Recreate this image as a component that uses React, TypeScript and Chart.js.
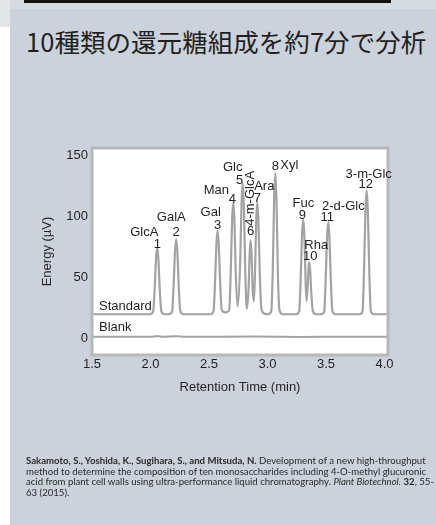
import React, { useEffect, useRef } from "react";
import { Chart, registerables } from "chart.js";

Chart.register(...registerables);

// ---------- data ----------
const xTicks = [1.5, 2.0, 2.5, 3.0, 3.5, 4.0];
const yTicks = [0, 50, 100, 150];

const standardTime = [
  1.5, 1.998, 2.023, 2.036, 2.048, 2.058, 2.068, 2.08, 2.093, 2.118,
  2.16, 2.185, 2.198, 2.21, 2.22, 2.23, 2.242, 2.255, 2.28,
  2.514, 2.539, 2.552, 2.564, 2.574, 2.584, 2.596, 2.609, 2.64, 2.673,
  2.686, 2.698, 2.708, 2.718, 2.728, 2.745,
  2.766, 2.778, 2.788, 2.798, 2.81, 2.823,
  2.838, 2.848, 2.856, 2.864, 2.873, 2.884,
  2.895, 2.904, 2.913, 2.923, 2.935, 2.948, 2.973,
  3.007, 3.032, 3.045, 3.057, 3.067, 3.077, 3.089, 3.102, 3.127,
  3.246, 3.271, 3.284, 3.296, 3.306, 3.316, 3.326, 3.334,
  3.345, 3.351, 3.357, 3.365, 3.375, 3.388, 3.413,
  3.46, 3.485, 3.498, 3.51, 3.52, 3.53, 3.542, 3.555, 3.58,
  3.788, 3.813, 3.826, 3.838, 3.848, 3.858, 3.87, 3.883, 3.908, 4.03,
];
const standardSignal = [
  19.5, 19.5, 22, 41, 66, 74, 64, 38, 22, 19.5,
  19.5, 22, 44, 72, 81, 70, 41, 22, 19.5,
  19.5, 22, 47, 78, 88, 75, 44, 23, 21, 23,
  55, 98, 111, 95, 55, 26,
  60, 110, 127, 108, 55, 24,
  40, 70, 80, 68, 40, 30,
  60, 98, 111, 94, 50, 24, 20,
  19.5, 22, 55, 115, 135, 112, 52, 23, 19.5,
  19.5, 22, 50, 86, 97, 82, 45, 30,
  45, 58, 62, 55, 36, 22, 19.5,
  19.5, 22, 50, 84, 95, 81, 45, 22, 19.5,
  19.5, 22, 60, 106, 121, 103, 55, 22, 19.5, 19.5,
];

const blankTime = [1.5, 2.0, 2.06, 2.1, 2.22, 2.3, 2.9, 3.3, 3.6, 4.03];
const blankSignal = [1.0, 1.0, 1.6, 1.0, 1.4, 1.0, 1.2, 0.9, 1.0, 1.0];

const peakTimes = [2.058, 2.22, 2.574, 2.708, 2.788, 2.856, 2.913, 3.067, 3.306, 3.357, 3.52, 3.848];
const peakHeights = [74, 81, 88, 111, 127, 80, 111, 135, 97, 62, 95, 121];
const peakNames = ["GlcA", "GalA", "Gal", "Man", "Glc", "4-m-GlcA", "Ara", "Xyl", "Fuc", "Rha", "2-d-Glc", "3-m-Glc"];
const peakNumbers = ["1", "2", "3", "4", "5", "6", "7", "8", "9", "10", "11", "12"];

const traceNames = ["Standard", "Blank"];

const pageTitle = "10種類の還元糖組成を約7分で分析";
const xTitle = "Retention Time (min)";
const yTitle = "Energy (µV)";

// ---------- layout (pixel offsets of peak labels from each apex) ----------
// [nameDx, nameDy, numberDx, numberDy, nameRotated]
const labelLayout: [number, number, number, number, boolean][] = [
  [-13, -15, 0, -3, false],
  [-5, -22, 0, -7, false],
  [-7, -18, 0, -5, false],
  [-17, -12, -1, -3, false],
  [-10, -16, -3, -3, false],
  [0, -42, 0, -9, true],
  [7, -16, 0, -4, false],
  [14, -8, 0, -7, false],
  [0, -16, -1, -4, false],
  [7, -17, 1, -6, false],
  [15, -16, -1, -5, false],
  [2, -16, -1, -6, false],
];

const TEXT = "#231f20";
const FONT = '"Liberation Sans", Arial, sans-serif';

const decor = {
  id: "decor",
  beforeDatasetsDraw(chart: any) {
    const { ctx, chartArea: a } = chart;
    ctx.save();
    ctx.fillStyle = "#ffffff";
    ctx.fillRect(a.left, a.top, a.right - a.left, a.bottom - a.top);
    ctx.restore();
  },
  afterDatasetsDraw(chart: any) {
    const { ctx, chartArea: a, scales } = chart;
    const xs = scales.x;
    const ys = scales.y;
    ctx.save();
    ctx.strokeStyle = "#b8b8b8";
    ctx.lineWidth = 3;
    ctx.strokeRect(a.left, a.top, a.right - a.left, a.bottom - a.top);

    ctx.fillStyle = TEXT;
    ctx.font = `13px ${FONT}`;
    ctx.textAlign = "center";
    ctx.textBaseline = "middle";
    peakTimes.forEach((t, i) => {
      const px = xs.getPixelForValue(t);
      const py = ys.getPixelForValue(peakHeights[i]);
      const [ndx, ndy, mdx, mdy, rot] = labelLayout[i];
      ctx.fillText(peakNumbers[i], px + mdx, py + mdy);
      if (rot) {
        ctx.save();
        ctx.translate(px + ndx, py + ndy);
        ctx.rotate(-Math.PI / 2);
        ctx.fillText(peakNames[i], 0, 0);
        ctx.restore();
      } else {
        ctx.fillText(peakNames[i], px + ndx, py + ndy);
      }
    });

    ctx.textAlign = "left";
    const firsts = [standardSignal[0], blankSignal[0]];
    const lift = [8, 9];
    traceNames.forEach((name, i) => {
      ctx.fillText(name, a.left + 7, ys.getPixelForValue(firsts[i]) - lift[i]);
    });
    ctx.restore();
  },
};

export default function App() {
  const ref = useRef<HTMLCanvasElement | null>(null);

  useEffect(() => {
    if (!ref.current) return;
    const chart = new Chart(ref.current, {
      type: "line",
      data: {
        datasets: [
          {
            label: traceNames[0],
            data: standardTime.map((t, i) => ({ x: t, y: standardSignal[i] })),
            borderColor: "#a3a3a3",
            borderWidth: 2.2,
            pointRadius: 0,
            cubicInterpolationMode: "monotone",
          },
          {
            label: traceNames[1],
            data: blankTime.map((t, i) => ({ x: t, y: blankSignal[i] })),
            borderColor: "#a3a3a3",
            borderWidth: 2,
            pointRadius: 0,
            cubicInterpolationMode: "monotone",
          },
        ],
      },
      options: {
        responsive: false,
        animation: false,
        events: [],
        layout: { padding: { left: 40, right: 48, top: 148, bottom: 130 } },
        plugins: { legend: { display: false }, tooltip: { enabled: false }, title: { display: false } },
        scales: {
          x: {
            type: "linear",
            min: 1.5,
            max: 4.03,
            border: { display: false },
            grid: { display: false, drawTicks: false },
            afterBuildTicks: (s: any) => {
              s.ticks = xTicks.map((v) => ({ value: v }));
            },
            afterFit: (s: any) => {
              s.height = 40;
            },
            ticks: {
              color: TEXT,
              font: { family: FONT, size: 13 },
              padding: 2,
              maxRotation: 0,
              callback: (v: any) => Number(v).toFixed(1),
            },
            title: { display: true, text: xTitle, color: TEXT, font: { family: FONT, size: 13 }, padding: 0 },
          },
          y: {
            type: "linear",
            min: -13.9,
            max: 155.7,
            border: { display: false },
            grid: { display: false, drawTicks: false },
            afterBuildTicks: (s: any) => {
              s.ticks = yTicks.map((v) => ({ value: v }));
            },
            afterFit: (s: any) => {
              s.width = 52;
            },
            ticks: {
              color: TEXT,
              font: { family: FONT, size: 13 },
              padding: 4,
              callback: (v: any) => String(v),
            },
            title: { display: true, text: yTitle, color: TEXT, font: { family: FONT, size: 13 }, padding: 0 },
          },
        },
      },
      plugins: [decor],
    } as any);
    return () => chart.destroy();
  }, []);

  return (
    <div
      style={{
        position: "fixed",
        left: 0,
        top: 0,
        width: 436,
        height: 525,
        background: "#cbd2dc",
        overflow: "hidden",
      }}
    >
      <div style={{ position: "absolute", left: 0, top: 0, width: 10, height: 525, background: "#ffffff" }} />
      <div style={{ position: "absolute", left: 0, top: 0, width: 10, height: 27, background: "#e3e5e9" }} />
      <div style={{ position: "absolute", left: 10, top: 0, width: 426, height: 9, background: "#d6dbe2" }} />
      <div style={{ position: "absolute", left: 24, top: 0, width: 367, height: 3, background: "#111111" }} />
      <div
        style={{
          position: "absolute",
          left: 26,
          top: 28,
          fontFamily: '"Noto Sans CJK JP", sans-serif',
          fontSize: 25.5,
          letterSpacing: 0.05,
          lineHeight: "26px",
          color: TEXT,
          whiteSpace: "nowrap",
        }}
      >
        {pageTitle}
      </div>
      <canvas ref={ref} width={436} height={525} style={{ position: "absolute", left: 0, top: 0, display: "block" }} />
      <div
        style={{
          position: "absolute",
          left: 26,
          top: 456,
          fontFamily: "Lato, sans-serif",
          fontSize: 9.6,
          lineHeight: "10.6px",
          color: "#2a2a2a",
          whiteSpace: "nowrap",
        }}
      >
        <div>
          <b>Sakamoto, S., Yoshida, K., Sugihara, S., and Mitsuda, N.</b> Development of a new high-throughput
        </div>
        <div>method to determine the composition of ten monosaccharides including 4-O-methyl glucuronic</div>
        <div>
          acid from plant cell walls using ultra-performance liquid chromatography. <i>Plant Biotechnol.</i> <b>32</b>, 55-
        </div>
        <div>63 (2015).</div>
      </div>
    </div>
  );
}
